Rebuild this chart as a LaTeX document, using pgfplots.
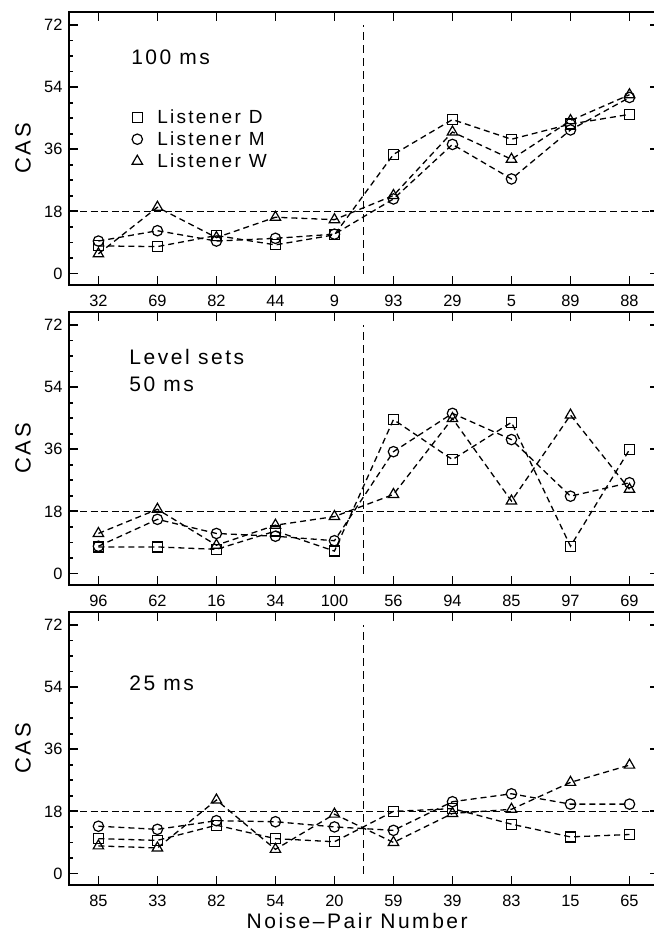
\documentclass[border=0pt]{standalone}
\usepackage{fontspec}
\setmainfont{Liberation Sans}
\newfontfamily\wide{Liberation Sans}[LetterSpace=12]
\usepackage{pgfplots}
\pgfplotsset{compat=1.18}
\tikzset{lbl/.style={anchor=west, inner sep=0pt, font=\wide\fontsize{10.5}{13.5}\selectfont, align=left}}
\pgfplotsset{
  cas/.style={
    scale only axis, width=294.75pt, height=136.65pt,
    xmin=-0.49, xmax=9.5, ymin=-3.33, ymax=75.85,
    xtick={0,...,9}, ytick={0,18,36,54,72}, minor y tick num=3,
    tick align=inside, major tick length=4.5pt, minor tick length=2pt,
    axis line style={line width=1pt},
    every tick/.style={black, line width=0.9pt},
    ticklabel style={font=\fontsize{8.2}{9}\selectfont},
    xticklabel style={yshift=-1.5pt},
    /pgf/number format/assume math mode=true,
    ylabel={CAS},
    ylabel style={font=\wide\fontsize{11}{13}\selectfont, at={(axis description cs:-0.0789,0.5)}, anchor=center},
    anchor=north west, clip=false,
  },
  dat/.style={black, line width=0.65pt, dash pattern=on 3pt off 2pt},
  D/.style={dat, mark=square, mark size=2.5pt, mark options={solid, line width=0.6pt}},
  M/.style={dat, mark=o, mark size=2.6pt, mark options={solid, line width=0.6pt}},
  W/.style={dat, mark=triangle, mark size=3pt, mark options={solid, line width=0.6pt}},
  refh/.style={forget plot, black, line width=0.6pt, dash pattern=on 3.5pt off 1.8pt},
  refv/.style={forget plot, black, line width=0.5pt, dash pattern=on 4pt off 2.5pt},
}
\begin{document}
\begin{tikzpicture}
\path[use as bounding box] (0,0) rectangle (327pt,-467pt);
% ---------- Panel 1: 100 ms ----------
\begin{axis}[cas, at={(34.75pt,-5.85pt)},
  xticklabels={32,69,82,44,9,93,29,5,89,88},
  legend style={at={(axis cs:0.571,47.6)}, anchor=north west, draw=none, fill=none,
    inner sep=0pt, outer sep=0pt, column sep=7.4pt, row sep=3pt,
    font=\wide\fontsize{9.5}{11}\selectfont,
    nodes={inner sep=0pt, text height=7pt, text depth=1pt}},
  legend cell align=left,
  legend image code/.code={\draw[#1, only marks] plot coordinates {(0pt,0pt)};},
]
\addplot[refh] coordinates {(-0.49,18) (9.5,18)};
\addplot[refv] coordinates {(4.5,0) (4.5,72)};
\addplot[D] coordinates {(0,8.0) (1,7.8) (2,11.0) (3,8.3) (4,11.2) (5,34.5) (6,44.6) (7,38.9) (8,43.3) (9,46.1)};
\addplot[M] coordinates {(0,9.4) (1,12.4) (2,9.4) (3,10.2) (4,11.4) (5,21.6) (6,37.4) (7,27.4) (8,41.6) (9,51.0)};
\addplot[W] coordinates {(0,5.7) (1,19.2) (2,10.4) (3,16.3) (4,15.6) (5,22.6) (6,41.0) (7,33.1) (8,44.3) (9,51.8)};
\legend{Listener\hspace{4pt}D, Listener\hspace{4pt}M, Listener\hspace{4pt}W}
\node[lbl] at (axis cs:0.55,62.7) {100\hspace{4pt}ms};
\end{axis}
% ---------- Panel 2: Level sets 50 ms ----------
\begin{axis}[cas, at={(34.75pt,-155.85pt)},
  xticklabels={96,62,16,34,100,56,94,85,97,69}]
\addplot[refh] coordinates {(-0.49,18) (9.5,18)};
\addplot[refv] coordinates {(4.5,0) (4.5,72)};
\addplot[D] coordinates {(0,7.7) (1,7.7) (2,7.0) (3,12.3) (4,6.5) (5,44.6) (6,33.0) (7,43.8) (8,7.9) (9,35.9)};
\addplot[M] coordinates {(0,7.9) (1,15.7) (2,11.6) (3,10.8) (4,9.5) (5,35.3) (6,46.4) (7,38.8) (8,22.4) (9,26.3)};
\addplot[W] coordinates {(0,11.6) (1,18.6) (2,8.2) (3,14.0) (4,16.5) (5,22.9) (6,44.9) (7,21.0) (8,45.9) (9,24.4)};
\node[lbl] at (axis cs:0.52,58.8) {Level sets\\50\hspace{4pt}ms};
\end{axis}
% ---------- Panel 3: 25 ms ----------
\begin{axis}[cas, at={(34.75pt,-305.85pt)},
  xticklabels={85,33,82,54,20,59,39,83,15,65},
  xlabel={Noise–Pair Number},
  xlabel style={font=\wide\fontsize{10.5}{12}\selectfont, at={(axis description cs:0.488,-0.158)}, anchor=base}]
\addplot[refh] coordinates {(-0.49,18) (9.5,18)};
\addplot[refv] coordinates {(4.5,0) (4.5,72)};
\addplot[D] coordinates {(0,10.1) (1,9.6) (2,14.0) (3,10.1) (4,9.2) (5,18.0) (6,18.8) (7,14.3) (8,10.6) (9,11.3)};
\addplot[M] coordinates {(0,13.7) (1,12.8) (2,15.3) (3,15.0) (4,13.5) (5,12.5) (6,20.8) (7,23.1) (8,20.1) (9,20.1)};
\addplot[W] coordinates {(0,8.0) (1,7.4) (2,21.3) (3,7.0) (4,17.2) (5,9.0) (6,17.4) (7,18.6) (8,26.4) (9,31.4)};
\node[lbl] at (axis cs:0.52,55.1) {25\hspace{4pt}ms};
\end{axis}
\end{tikzpicture}
\end{document}
